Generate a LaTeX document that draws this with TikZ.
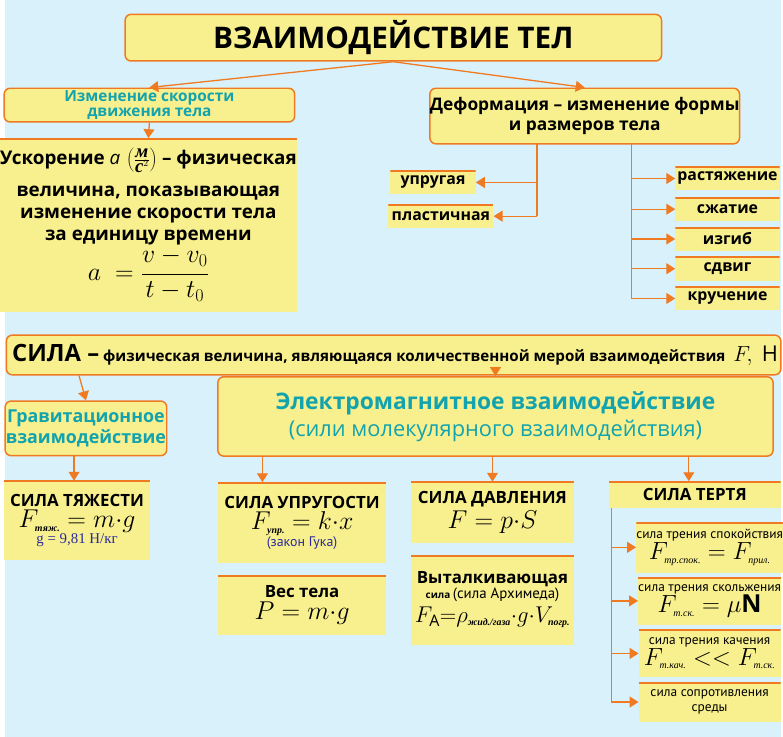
\RequirePackage{fix-cm}
\documentclass[tikz,border=0pt]{standalone}
\usepackage{fontspec}
\setmainfont{Open Sans}
\newfontfamily\pts{PT Sans}
\newfontfamily\srf{Liberation Serif}
\usetikzlibrary{arrows.meta}
\definecolor{bg}{HTML}{D8F1FB}
\definecolor{ylw}{HTML}{F8F08E}
\definecolor{org}{HTML}{F07A22}
\definecolor{tl}{HTML}{12A3AE}
\definecolor{bl}{HTML}{2A2A9A}
\newcommand{\sub}[1]{_{\mbox{\srf\itshape\fontsize{10}{10}\selectfont #1}}}
\newcommand{\fs}[1]{\fontsize{#1}{#1}\selectfont}
\begin{document}
\begin{tikzpicture}[x=1pt,y=-1pt,
  rbox/.style={draw=org,line width=1.5pt,fill=ylw,rounded corners=6pt,inner sep=0pt,align=center,font=\bfseries},
  ybox/.style={fill=ylw,inner sep=0pt,align=center,font=\bfseries,
    path picture={\draw[org,line width=3pt] (path picture bounding box.north west)--(path picture bounding box.north east);}},
  ln/.style={draw=org,line width=1.3pt},
  arr/.style={draw=org,line width=1.3pt,-{Triangle[width=11pt,length=9pt]}}]
\fill[bg] (0,0) rectangle (783,743);
% title
\node[rbox,minimum width=541,minimum height=47,font=\bfseries\fs{30}] (title) at (392,38) {ВЗАИМОДЕЙСТВИЕ ТЕЛ};
\node[rbox,minimum width=293,minimum height=34,text=tl,font=\bfseries\fontsize{15.5}{15.5}\selectfont] (izm) at (146,106) {Изменение скорости\\движения тела};
\node[rbox,minimum width=310,minimum height=56,font=\bfseries\fontsize{17.5}{21}\selectfont] (def) at (585,117) {Деформация – изменение формы\\и размеров тела};
\draw[arr] (title.south) coordinate (t0) -- (izm.north);
\draw[arr] (t0) -- (def.north);
% acceleration
\node[ybox,minimum width=290,minimum height=175,font=\bfseries\fontsize{19}{22}\selectfont] (acc) at (145,227) {Ускорение \(\mathit{a}\,\left(\frac{\mbox{\srf\itshape м}}{\mbox{\srf\itshape с}^2}\right)\) – физическая\\[10pt]
величина, показывающая\\изменение скорости тела\\за единицу времени\\[2pt]
{\fs{26}\(\displaystyle a\ =\frac{v-v_0}{t-t_0}\)}};
\draw[arr] (izm.south) -- (acc.north);
% deformation types
\node[ybox,minimum width=86,minimum height=24,font=\bfseries\fs{16}] (upr) at (432,184) {упругая};
\node[ybox,minimum width=106,minimum height=24,font=\bfseries\fs{16}] (pl) at (440,218) {пластичная};
\coordinate (d1) at (537,145); \coordinate (d2) at (632,145);
\draw[ln] (d1) -- (537,218);
\draw[arr] (537,184) -- (upr.east);
\draw[arr] (537,218) -- (pl.east);
\draw[ln] (d2) -- (632,301);
\foreach \n/\t/\y in {r1/растяжение/180,r2/сжатие/211,r3/изгиб/241,r4/сдвиг/271,r5/кручение/301}{
  \node[ybox,minimum width=105,minimum height=24,font=\bfseries\fs{16}] (\n) at (729,\y) {\t};
  \draw[arr] (632,\y) -- (\n.west);
}
% SILA
\node[rbox,minimum width=781,minimum height=40,anchor=west,align=left,font=\bfseries\fs{15.3}] (sila) at (1,358) {\hspace{3pt}{\fs{24}СИЛА –} физическая величина, являющаяся количественной мерой взаимодействия\hspace{8pt}\mdseries\fs{22}\(F\!,\ \mathrm{H}\)};
\node[rbox,minimum width=163,minimum height=55,text=tl,font=\bfseries\fontsize{18}{21}\selectfont] (grav) at (82,432) {Гравитационное\\взаимодействие};
\node[rbox,minimum width=560,minimum height=80,text=tl,font=\fontsize{22}{27}\selectfont] (em) at (495,420) {{\bfseries\fs{23}Электромагнитное взаимодействие}\\(сили молекулярного взаимодействия)};
\draw[arr] ([xshift=-7]sila.south west -| grav.north) -- (grav.north);
\draw[arr] (sila.south -| em.north) -- (em.north);
% lower boxes
\node[ybox,minimum width=147,minimum height=80] (tyazh) at (73,525) {\bfseries\fs{17}СИЛА ТЯЖЕСТИ\\[2pt]{\fs{26}\(F\sub{тяж.}=m{\cdot}g\)}\\{\srf\mdseries\fs{15}\color{bl} g = 9,81 Н/кг}};
\draw[arr] ([xshift=-12]grav.south) -- ([xshift=-3]tyazh.north);
\node[ybox,minimum width=170,minimum height=81] (uprg) at (300,527) {\bfseries\fs{17}СИЛА УПРУГОСТИ\\[2pt]{\fs{26}\(F\sub{упр.}=k{\cdot}x\)}\\{\pts\mdseries\fs{14}\color{bl}(закон Гука)}};
\node[ybox,minimum width=170,minimum height=60] (ves) at (300,610) {\bfseries\fs{17}Вес тела\\[3pt]{\fs{26}\(P=m{\cdot}g\)}};
\node[ybox,minimum width=165,minimum height=62] (davl) at (492,517) {\bfseries\fs{17}СИЛА ДАВЛЕНИЯ\\[3pt]{\fs{26}\(F=p{\cdot}S\)}};
\node[ybox,minimum width=165,minimum height=90] (arh) at (492,605) {\bfseries\fontsize{17}{21}\selectfont Выталкивающая\\сила {\pts\mdseries\fs{15}(сила Архимеда)}\\[4pt]{\fs{23}\(F_{\mathrm{A}}{=}\rho\sub{жид./газа}{\cdot}g{\cdot}V\sub{погр.}\)}};
\draw[arr] ([xshift=-235]em.south) -- ([xshift=-40]uprg.north);
\draw[arr] (em.south -| davl.north) -- (davl.north);
% friction
\node[ybox,minimum width=173,minimum height=27,font=\bfseries\fs{17}] (tr) at (696,499) {СИЛА ТЕРТЯ};
\draw[arr] ([xshift=195]em.south) -- ([xshift=-6]tr.north);
\coordinate (tr0) at (612,512);
\draw[ln] (tr0) -- (612,708);
\foreach \n/\y/\h/\t in {
 f1/552/51/{сила трения спокойствия\\{\fs{25}\(F\sub{тр.спок.}=F\sub{прил.}\)}},
 f2/606/48/{сила трения скольжения\\{\fs{25}\(F\sub{т.ск.}=\mu\mathbf{N}\)}},
 f3/659/48/{сила трения качения\\{\fs{25}\(F\sub{т.кач.}<<F\sub{т.ск.}\)}},
 f4/708/40/{сила сопротивления\\среды}}{
  \node[ybox,minimum width=143,minimum height=\h,font=\pts\fontsize{13.5}{15}\selectfont\mdseries] (\n) at (711,\y) {\t};
  \draw[arr] (612,\y) -- (\n.west);
}
\end{tikzpicture}
\end{document}
